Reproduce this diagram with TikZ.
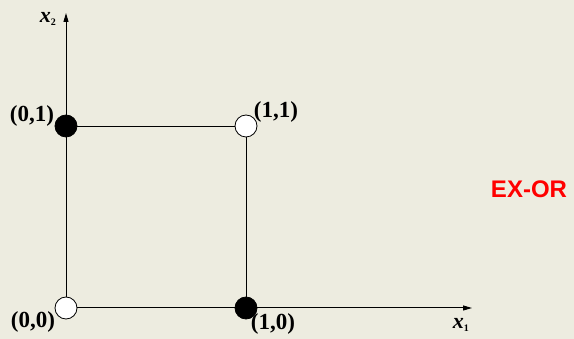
\documentclass[tikz,border=0pt]{standalone}
\usepackage{fontspec}
\setmainfont{Liberation Serif}
\newfontfamily\arialf{Liberation Sans}
\usetikzlibrary{arrows.meta}
\definecolor{paper}{RGB}{237,236,224}
\definecolor{exred}{RGB}{255,0,0}
\begin{document}
\begin{tikzpicture}[x=1pt,y=-1pt,
  axis/.style={line width=1pt,-{Triangle[length=9pt,width=5pt]}},
  edge/.style={line width=0.9pt},
  dotblack/.style={circle,draw=black,fill=black,line width=0.8pt,minimum size=22pt,inner sep=0pt},
  dotwhite/.style={circle,draw=black,fill=white,line width=0.8pt,minimum size=22pt,inner sep=0pt},
  lbl/.style={font=\fontsize{23}{25}\selectfont\bfseries,inner sep=0pt},
  axlbl/.style={font=\fontsize{22}{24}\selectfont\bfseries\itshape,inner sep=0pt}]
\fill[paper] (0,0) rectangle (574,339);
\useasboundingbox (0,0) rectangle (574,339);
\coordinate (o) at (66,308);
\coordinate (ytip) at (66,13);
\coordinate (xtip) at (472,308);
\draw[axis] (o) -- (ytip);
\draw[axis] (o) -- (xtip);
\coordinate (c01) at (66,126);
\coordinate (c11) at (246,126);
\coordinate (c10) at (246,308);
\draw[edge] (c01) -- (c11) -- (c10);
\node[dotblack] (p01) at (c01) {};
\node[dotwhite] (p11) at (c11) {};
\node[dotwhite] (p00) at (o) {};
\node[dotblack] (p10) at (c10) {};
\node[lbl] (l01) at (32,116) {(0,1)};
\node[lbl] (l11) at (276,112) {(1,1)};
\node[lbl] (l00) at (33,322) {(0,0)};
\node[lbl] (l10) at (273,324) {(1,0)};
\node[axlbl] (lx2) at (48,19) {x\textsubscript{\fontsize{10}{11}\selectfont\upshape 2}};
\node[axlbl] (lx1) at (461,325) {x\textsubscript{\fontsize{10}{11}\selectfont\upshape 1}};
\node[font=\arialf\fontsize{24}{26}\selectfont\bfseries,text=exred,inner sep=0pt] (ex) at (529,189) {EX-OR};
\end{tikzpicture}
\end{document}
